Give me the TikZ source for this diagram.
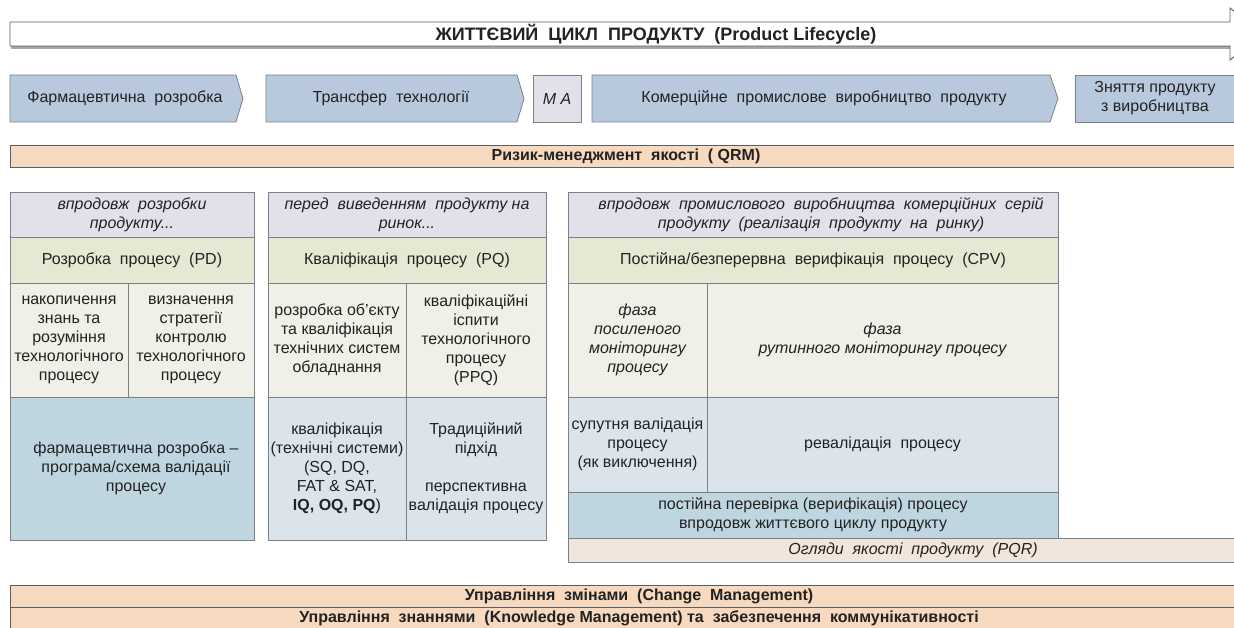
\documentclass[tikz,border=0pt]{standalone}
\usepackage{fontspec}
\setmainfont{Liberation Sans}
\definecolor{bord}{HTML}{7A8088}
\definecolor{dbord}{HTML}{5A5F64}
\definecolor{chev}{HTML}{B9C9DD}
\definecolor{maf}{HTML}{E2E1EA}
\definecolor{peach}{HTML}{F6D9BE}
\definecolor{hdr}{HTML}{E2E1EB}
\definecolor{pdf}{HTML}{E6E8D4}
\definecolor{mid}{HTML}{F0F0E8}
\definecolor{blueA}{HTML}{BFD6E1}
\definecolor{blueB}{HTML}{DCE4EB}
\definecolor{pqrf}{HTML}{F2E6DC}
\definecolor{textc}{HTML}{222222}
\begin{document}
\begin{tikzpicture}[x=1pt,y=-1pt,
  basefont/.style={font=\fontsize{16}{19}\selectfont},
  txt/.style={basefont, align=center, text=textc, inner sep=0},
  cell/.style={txt, draw=bord, line width=0.8pt},
  icell/.style={cell, font=\itshape\fontsize{16}{19}\selectfont},
  bar/.style={draw=dbord, line width=0.9pt, fill=peach, inner sep=0, text=textc,
    font=\bfseries\fontsize{16}{18}\selectfont},
  chevshape/.style={draw=bord, line width=0.8pt, fill=chev}]
\useasboundingbox (0,0) rectangle (1234,628);
\begin{scope}
\clip (0,0) rectangle (1234,628);
% ---- banner
\fill[gray!70] (11,46) rectangle (1230,49);
\draw[dbord, line width=0.9pt, fill=white]
  (10,22) -- (1230,22) -- (1230,8) -- (1262,34) -- (1230,60) -- (1230,46) -- (10,46) -- cycle;
\node[txt, font=\bfseries\fontsize{18}{20}\selectfont] (title) at (656,34)
  {ЖИТТЄВИЙ~ ЦИКЛ~ ПРОДУКТУ~ (Product Lifecycle)};
% ---- stages
\draw[chevshape] (10,75) -- (236,75) -- (243,98.5) -- (236,122) -- (10,122) -- cycle;
\node[txt] (s1) at (125,98.5) {Фармацевтична~ розробка};
\draw[chevshape] (266,75) -- (517,75) -- (524,98.5) -- (517,122) -- (266,122) -- cycle;
\node[txt] (s2) at (391,98.5) {Трансфер~ технології};
\node[cell, fill=maf, minimum width=48, minimum height=47, font=\itshape\fontsize{16}{19}\selectfont] (ma) at (557,98.5) {M A};
\draw[chevshape] (592,75) -- (1050,75) -- (1058,98.5) -- (1050,122) -- (592,122) -- cycle;
\node[txt] (s4) at (824,98.5) {Комерційне~ промислове~ виробництво~ продукту};
\draw[chevshape] (1075,75) rectangle (1245,122);
\node[txt] (s5) at (1155,98.5) {Зняття продукту\\з виробництва};
% ---- QRM
\node[bar, minimum width=1232, minimum height=22] (qrm) at (626,156) {Ризик-менеджмент~ якості~ ( QRM)};
% ---- column 1
\node[icell, fill=hdr, minimum width=244, minimum height=45] (c1h) at (132,214.5) {впродовж~ розробки\\продукту...};
\node[cell, fill=pdf, minimum width=244, minimum height=46] (c1p) at (132,260) {Розробка~ процесу~ (PD)};
\node[cell, fill=mid, minimum width=118, minimum height=114] (c1a) at (69,340) {накопичення\\знань та\\розуміння\\технологічного\\процесу};
\node[cell, fill=mid, minimum width=126, minimum height=114] (c1b) at (191,340) {визначення\\стратегії\\контролю\\технологічного\\процесу};
\node[cell, fill=blueA, minimum width=244, minimum height=143] (c1c) at (132,468.5) {\hspace*{8pt}фармацевтична розробка –\\\hspace*{8pt}програма/схема валідації\\\hspace*{8pt}процесу};
% ---- column 2
\node[icell, fill=hdr, minimum width=278, minimum height=45] (c2h) at (407,214.5) {перед~ виведенням~ продукту на\\ринок...};
\node[cell, fill=pdf, minimum width=278, minimum height=46] (c2p) at (407,260) {Кваліфікація~ процесу~ (PQ)};
\node[cell, fill=mid, minimum width=138, minimum height=114] (c2a) at (337,340) {розробка об’єкту\\та кваліфікація\\технічних систем\\обладнання};
\node[cell, fill=mid, minimum width=140, minimum height=114] (c2b) at (476,340) {кваліфікаційні\\іспити\\технологічного\\процесу\\(PPQ)};
\node[cell, fill=blueB, minimum width=138, minimum height=143] (c2c) at (337,468.5) {кваліфікація\\(технічні системи)\\(SQ, DQ,\\FAT \& SAT,\\\textbf{IQ, OQ, PQ})};
\node[cell, fill=blueB, minimum width=140, minimum height=143] (c2d) at (476,468.5) {Традиційний\\підхід\\~\\перспективна\\валідація процесу};
% ---- column 3
\node[icell, fill=hdr, minimum width=490, minimum height=45] (c3h) at (813,214.5) {\hspace*{16pt}впродовж~ промислового~ виробництва~ комерційних~ серій\\\hspace*{16pt}продукту~ (реалізація~ продукту~ на~ ринку)};
\node[cell, fill=pdf, minimum width=490, minimum height=46] (c3p) at (813,260) {Постійна/безперервна~ верифікація~ процесу~ (CPV)};
\node[icell, fill=mid, minimum width=139, minimum height=114] (c3a) at (637.5,340) {фаза\\посиленого\\моніторингу\\процесу};
\node[icell, fill=mid, minimum width=351, minimum height=114] (c3b) at (882.5,340) {фаза\\рутинного моніторингу процесу};
\node[cell, fill=blueB, minimum width=139, minimum height=95] (c3c) at (637.5,444.5) {супутня валідація\\процесу\\(як виключення)};
\node[cell, fill=blueB, minimum width=351, minimum height=95] (c3d) at (882.5,444.5) {ревалідація~ процесу};
\node[cell, fill=blueA, minimum width=490, minimum height=46] (c3e) at (813,515) {постійна перевірка (верифікація) процесу\\впродовж життєвого циклу продукту};
\node[icell, fill=pqrf, minimum width=690, minimum height=24] (pqr) at (913,550) {Огляди~ якості~ продукту~ (PQR)};
% ---- bottom bars
\node[bar, minimum width=1258, minimum height=22] (chg) at (639,596) {Управління~ змінами~ (Change~ Management)};
\node[bar, minimum width=1258, minimum height=22] (knw) at (639,618) {Управління~ знаннями~ (Knowledge Management) та~ забезпечення~ коммунікативності};
\end{scope}
\end{tikzpicture}
\end{document}
